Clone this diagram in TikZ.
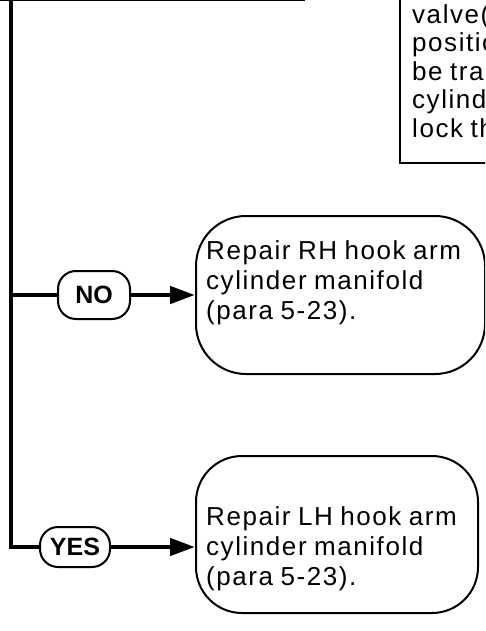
\documentclass[tikz,border=0pt]{standalone}
\usepackage{fontspec}
\setmainfont{Liberation Sans}
\newfontfamily\bodyfont[LetterSpace=6,WordSpace=0.85]{Liberation Sans}
\usetikzlibrary{arrows.meta}
\begin{document}
\begin{tikzpicture}[x=1pt,y=-1pt,
  conn/.style={line width=4.5pt},
  arr/.style={conn,-{Triangle[length=25pt,width=17pt]}},
  roundbox/.style={draw,line width=2pt,inner sep=0pt},
  tag/.style={draw,line width=2pt,rounded corners=18pt,inner sep=0pt,
    font=\fontsize{25}{28}\selectfont\bfseries},
  txt/.style={inner sep=0pt,align=left,anchor=north west,
    font=\bodyfont\fontsize{26}{30}\selectfont}]
\useasboundingbox (0,0) rectangle (485,631);
\clip (0,0) rectangle (485,631);
% partial boxes at the top
\node[draw,line width=3pt,inner sep=0pt,minimum width=340pt,minimum height=60pt,
  anchor=south east] (topbox) at (305,1.5) {};
\node[draw,line width=2pt,inner sep=0pt,minimum width=150pt,minimum height=200pt,
  anchor=south west] (note) at (399,164) {};
\node[txt,font=\bodyfont\fontsize{26}{28.5}\selectfont] (notetext) at (412,4)
  {valve(\\positio\\be tra\\cylind\\lock th};
% decision tags
\node[tag,minimum width=72pt,minimum height=48pt] (no) at (94,295) {NO};
\node[tag,minimum width=70pt,minimum height=40pt] (yes) at (75,547) {YES};
% result boxes
\node[roundbox,rounded corners=50pt,minimum width=289pt,minimum height=158pt,
  anchor=north west] (rh) at (195,215) {};
\node[txt] (rhtext) at (206,240) {Repair RH hook arm\\cylinder manifold\\(para 5-23).};
\node[roundbox,rounded corners=46pt,minimum width=282pt,minimum height=157pt,
  anchor=north west] (lh) at (195,455) {};
\node[txt] (lhtext) at (206,506) {Repair LH hook arm\\cylinder manifold\\(para 5-23).};
% connectors
\coordinate (top) at (11,1);
\coordinate (nojoin) at (11,295);
\draw[conn] (top) |- (yes.west);
\draw[conn] (nojoin) -- (no.west);
\draw[arr] (no.east) -- (rh.west |- no.east);
\draw[arr] (yes.east) -- (lh.west |- yes.east);
\end{tikzpicture}
\end{document}
